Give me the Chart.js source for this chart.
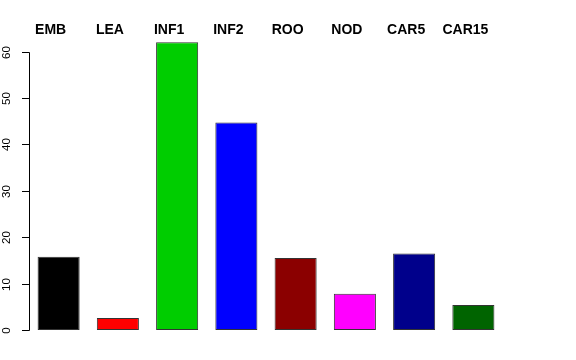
<!DOCTYPE html>
<html>
<head>
<meta charset="utf-8">
<script src="https://cdn.jsdelivr.net/npm/chart.js@4/dist/chart.umd.min.js"></script>
<style>
  html, body { margin: 0; padding: 0; background: #fff; }
  #wrap { width: 576px; height: 360px; }
</style>
</head>
<body>
<div id="wrap"><canvas id="bars"></canvas></div>
<script>
'use strict';

const tissues = ['EMB', 'LEA', 'INF1', 'INF2', 'ROO', 'NOD', 'CAR5', 'CAR15'];
const counts = [15.8, 2.6, 62.0, 44.7, 15.5, 7.8, 16.5, 5.4];
const barColors = ['#000000', '#ff0000', '#00cd00', '#0000ff', '#8b0000', '#ff00ff', '#00008b', '#006400'];
const yTicks = [0, 10, 20, 30, 40, 50, 60];

// R style left axis + labels over the bars
const rAxis = {
    id: 'rAxis',
    afterDraw(chart) {
        const ctx = chart.ctx;
        const y = chart.scales.y;
        const x = chart.scales.x;
        const axisX = chart.chartArea.left;
        ctx.save();
        ctx.strokeStyle = '#000';
        ctx.lineWidth = 1;
        ctx.beginPath();
        ctx.moveTo(axisX + 0.5, Math.round(y.getPixelForValue(yTicks[0])) + 0.5);
        ctx.lineTo(axisX + 0.5, Math.round(y.getPixelForValue(yTicks[yTicks.length - 1])) + 0.5);
        ctx.stroke();
        ctx.font = '11.5px "Liberation Sans", Arial, sans-serif';
        ctx.fillStyle = '#000';
        ctx.textAlign = 'center';
        ctx.textBaseline = 'middle';
        for (const t of yTicks) {
            const py = Math.round(y.getPixelForValue(t)) + 0.5;
            ctx.beginPath();
            ctx.moveTo(axisX - 7, py);
            ctx.lineTo(axisX + 0.5, py);
            ctx.stroke();
            ctx.save();
            ctx.translate(7, py);
            ctx.rotate(-Math.PI / 2);
            ctx.fillText(String(t), 0, 0);
            ctx.restore();
        }
        ctx.font = 'bold 14px "Liberation Sans", Arial, sans-serif';
        ctx.textBaseline = 'alphabetic';
        tissues.forEach((name, i) => {
            ctx.fillText(name, x.getPixelForValue(i) - 8, 34);
        });
        ctx.restore();
    }
};

new Chart(document.querySelector('#bars'), {
    type: 'bar',
    data: {
        labels: tissues,
        datasets: [{
            data: counts,
            backgroundColor: barColors,
            borderColor: '#333333',
            borderWidth: 1,
            borderSkipped: false,
            categoryPercentage: 1,
            barPercentage: 0.71
        }]
    },
    options: {
        responsive: true,
        maintainAspectRatio: false,
        animation: false,
        devicePixelRatio: 1,
        layout: { padding: { left: 29, right: 73, top: 33, bottom: 30 } },
        plugins: { legend: { display: false }, tooltip: { enabled: false } },
        scales: {
            x: { display: false },
            y: { display: false, min: 0, max: 64 }
        }
    },
    plugins: [rAxis]
});
</script>
</body>
</html>
